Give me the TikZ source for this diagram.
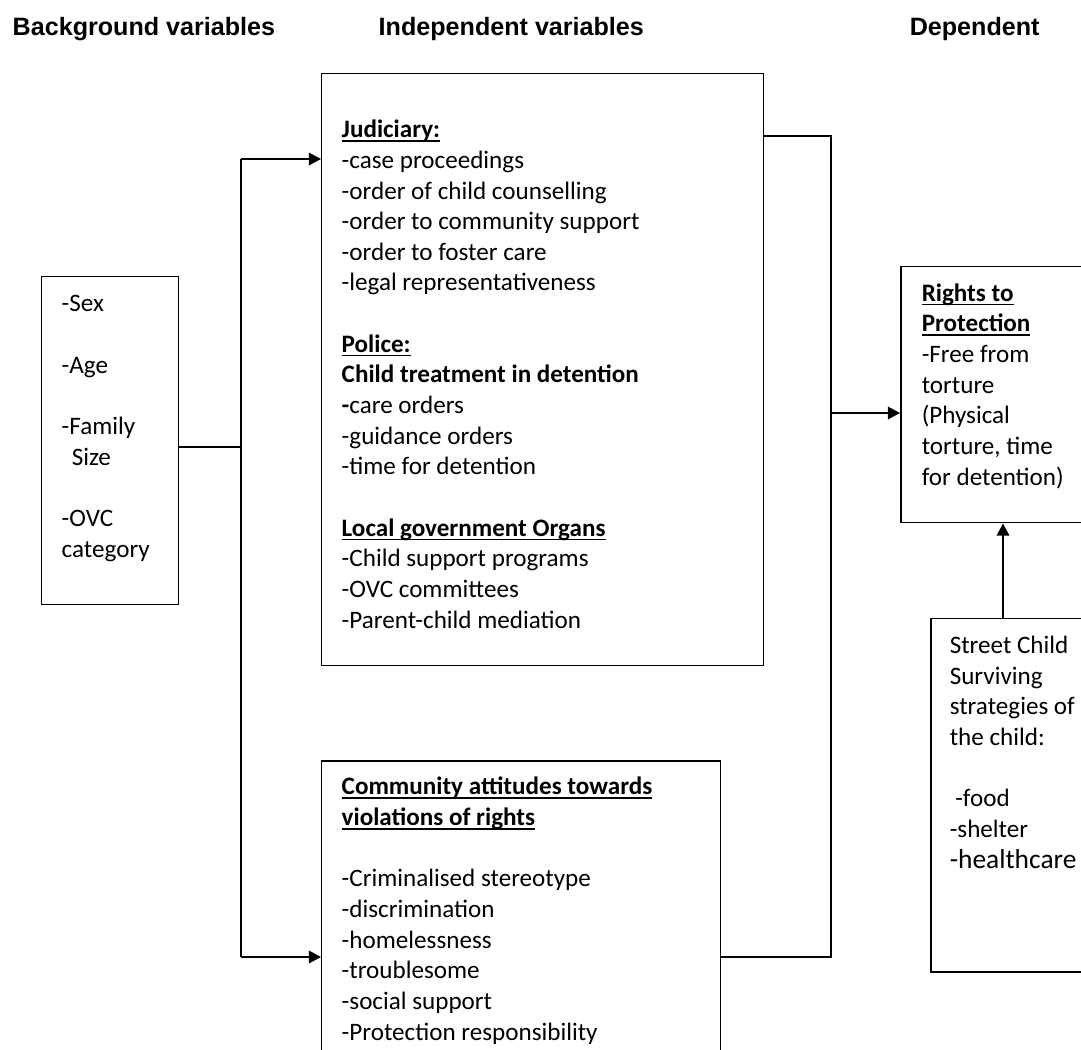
\documentclass[tikz,border=0pt]{standalone}
\usepackage{fontspec}
\setmainfont{Carlito}
\newfontfamily\headfont{Liberation Sans}
\usetikzlibrary{arrows.meta}
\newcommand\px{0.438pt}
\newcommand\undl[1]{\setbox0\hbox{#1}\rlap{\rule[-1.8pt]{\wd0}{0.7pt}}\box0}

\begin{document}
\begin{tikzpicture}[x=0.438pt, y=-0.438pt, line width=0.65pt]
  \tikzset{ box/.style={draw,rectangle,inner sep=0pt,anchor=north west},
    txt/.style={anchor=base west,align=left,inner sep=0pt,font=\fontsize{11}{13.42}\selectfont},
    head/.style={anchor=base west,inner sep=0pt,font=\headfont\bfseries\fontsize{11}{13}\selectfont},
    arr/.style={-{Triangle[length=5.3pt,width=5.5pt]}},
  }
  \useasboundingbox (0,0) rectangle (1081,1049);
  \clip (0,0) rectangle (1081,1049);

  % column headings
  \node[head] (hback) at (12,35)  {Background variables};
  \node[head] (hind)  at (378,35) {Independent variables};
  \node[head] (hdep)  at (909,35) {Dependent};

  % the boxes
  \node[box, minimum width=137*\px, minimum height=328*\px] (bg)     at (41,276)  {};
  \node[box, minimum width=442*\px, minimum height=592*\px] (jud)    at (321,73)  {};
  \node[box, minimum width=399*\px, minimum height=320*\px] (com)    at (321,760) {};
  \node[box, minimum width=220*\px, minimum height=256*\px] (rights) at (900,266) {};
  \node[box, minimum width=190*\px, minimum height=353*\px] (street) at (930,618) {};

  % the texts in the boxes (placed at the baseline of their last line)
  \node[txt] (bgtext) at (61,557) {-Sex\\[13.42pt] -Age\\[13.42pt] -Family\\ \hspace{4.4pt}Size\\[13.42pt] -OVC\\ category};
  \node[txt] (judtext) at (341,628) {\undl{\textbf{Judiciary:}}\\ -case proceedings\\ -order of child counselling\\ -order to community support\\ -order to foster care\\ -legal representativeness\\[13.42pt]
    \undl{\textbf{Police:}}\\ \textbf{Child treatment in detention}\\ \textbf{-}care orders\\ -guidance orders\\ -time for detention\\[13.42pt]
    \undl{\textbf{Local government Organs}}\\ -Child support programs\\ -OVC committees\\ -Parent-child mediation};
  \node[txt] (comtext) at (341,1040) {\undl{\textbf{Community attitudes towards}}\\ \undl{\textbf{violations of rights}}\\[13.42pt]
    -Criminalised stereotype\\ -discrimination\\ -homelessness\\ -troublesome\\ -social support\\ -Protection responsibility};
  \node[txt] (rightstext) at (921,485) {\undl{\textbf{Rights to}}\\ \undl{\textbf{Protection}}\\ -Free from\\ torture\\ (Physical\\ torture, time\\ for detention)};
  \node[txt] (streettext) at (949,868) {Street Child\\ Surviving\\ strategies of\\ the child:\\[13.42pt]
    \hspace{2.5pt}-food\\ -shelter\\ {\fontsize{12}{14.6}\selectfont -healthcare}};

  % the connections between the boxes
  \coordinate (split) at (241,447);
  \coordinate (jin)   at (241,159);
  \coordinate (cin)   at (241,957);
  \draw (bg.east |- split) -- (split);
  \draw (jin) -- (cin);
  \draw[arr] (jin) -- (jud.west |- jin);
  \draw[arr] (cin) -- (com.west |- cin);

  \coordinate (jout) at (831,136);
  \coordinate (cout) at (831,957);
  \coordinate (join) at (831,413);
  \draw (jud.east |- jout) -- (jout) -- (cout) -- (com.east |- cout);
  \draw[arr] (join) -- (rights.west |- join);
  \coordinate (upx) at (1003,0);
  \draw[arr] (street.north -| upx) -- (rights.south -| upx);
\end{tikzpicture}
\end{document}
